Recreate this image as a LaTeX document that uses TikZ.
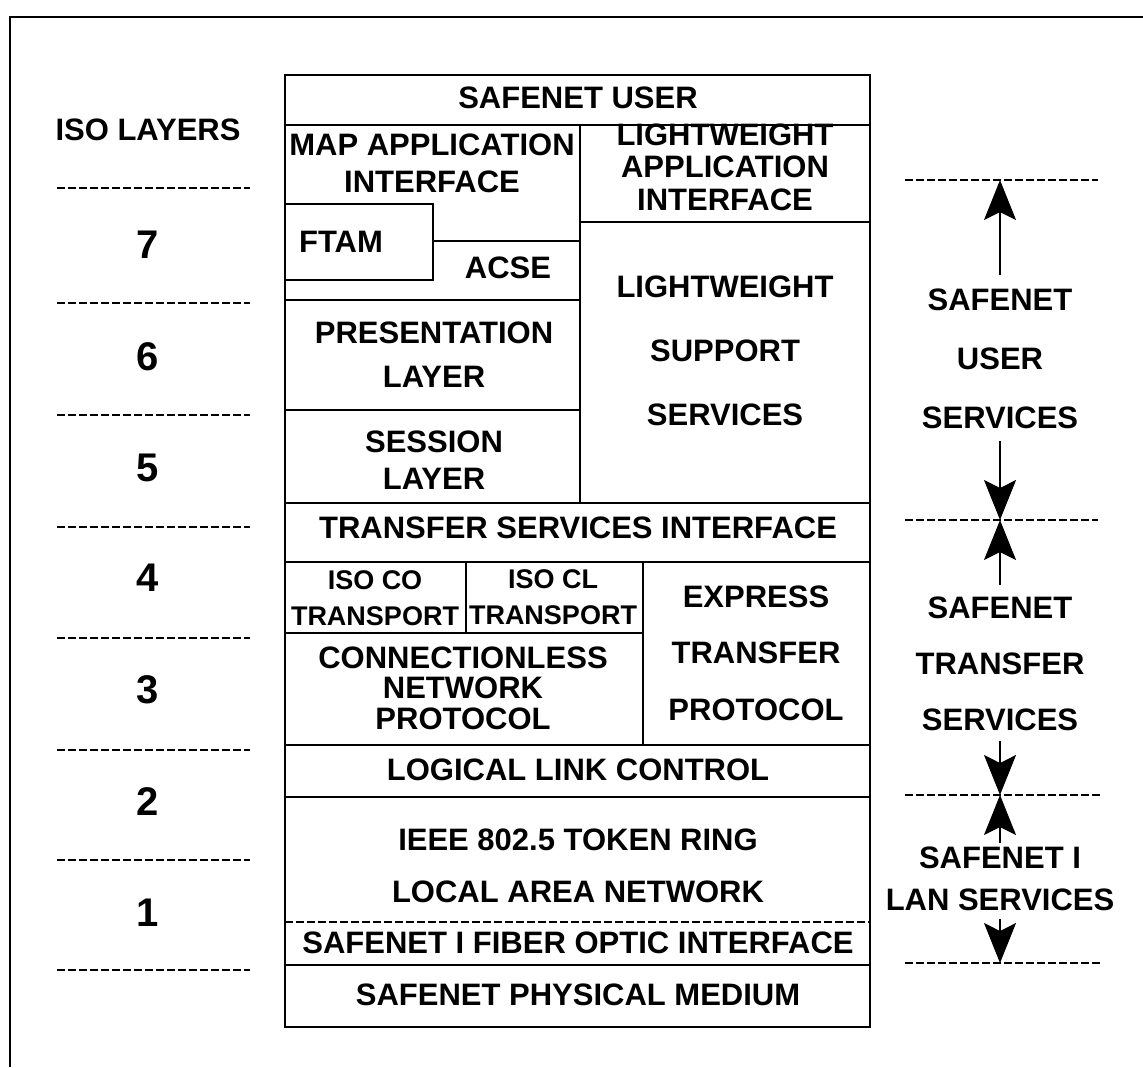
\documentclass[tikz,border=0pt]{standalone}
\usepackage{fontspec}
\setmainfont{Liberation Sans}
\usetikzlibrary{arrows.meta, positioning}
\newcommand\lsk[1]{\fontsize{15.5}{#1}\bfseries\selectfont}

\begin{document}
\begin{tikzpicture}[
  x=0.5pt, y=-0.5pt,
  txt/.style={align=center, inner sep=0pt, font=\lsk{18.5}},
  tptxt/.style={align=center, inner sep=0pt, font=\fontsize{13.5}{18}\bfseries\selectfont},
  digit/.style={inner sep=0pt, font=\fontsize{20}{24}\bfseries\selectfont},
  boxline/.style={line width=1pt},
  outerline/.style={line width=1.4pt},
  layerline/.style={line width=0.6pt, dash pattern=on 4pt off 1.5pt},
  arrow/.style={-{Stealth[length=20pt, width=16pt, inset=4pt]}, line width=0.6pt}
]
  \useasboundingbox (0,0) rectangle (1143,1067);

  % outer frame
  \draw[outerline] (10,1067) -- (10,17) -- (1143,17);

  % iso layers on the left
  \node[txt] (iso) at (148,130) {ISO LAYERS};
  \foreach \y in {188,303,415,527,638,750,860,970}
    \draw[layerline] (57,\y) -- (250,\y);
  \foreach \n/\y in {7/245,6/357,5/468,4/578,3/690,2/802,1/913}
    \node[digit] (l\n) at (148,\y) {\n};

  % the stack
  \draw[boxline] (285,75) rectangle (870,1027);
  \foreach \y in {125,503,562,745,797,965}
    \draw[boxline] (285,\y) -- (870,\y);
  \draw[layerline] (285,922) -- (870,922);
  \draw[boxline] (580,125) -- (580,503);
  \draw[boxline] (580,222) -- (870,222);
  \draw[boxline] (285,300) -- (580,300) (285,410) -- (580,410);
  \draw[boxline] (285,204) rectangle (433,280);
  \draw[boxline] (433,241) -- (580,241);
  \draw[boxline] (466,562) -- (466,633) (285,633) -- (643,633) (643,562) -- (643,745);

  \node[txt] (user) at (578,98) {SAFENET USER};
  \node[txt] (mapapi) at (432,163) {MAP APPLICATION\\INTERFACE};
  \node[txt, font=\lsk{16.3}] (lwapi) at (725,167) {LIGHTWEIGHT\\APPLICATION\\INTERFACE};
  \node[txt] (ftam) at (341,242) {FTAM};
  \node[txt] (acse) at (508,268) {ACSE};
  \node[txt, font=\lsk{32}] (lwss) at (725,351) {LIGHTWEIGHT\\SUPPORT\\SERVICES};
  \node[txt, font=\lsk{22}] (pres) at (434,355) {PRESENTATION\\LAYER};
  \node[txt] (sess) at (434,460) {SESSION\\LAYER};
  \node[txt] (tsi) at (578,528) {TRANSFER SERVICES INTERFACE};
  \node[tptxt] (isoco) at (375,598) {ISO CO\\TRANSPORT};
  \node[tptxt] (isocl) at (553,597) {ISO CL\\TRANSPORT};
  \node[txt, font=\lsk{28.2}] (xtp) at (756,653) {EXPRESS\\TRANSFER\\PROTOCOL};
  \node[txt, font=\lsk{15.3}] (clnp) at (463,688) {CONNECTIONLESS\\NETWORK\\PROTOCOL};
  \node[txt] (llc) at (578,770) {LOGICAL LINK CONTROL};
  \node[txt, font=\lsk{26}] (lan) at (578,866) {IEEE 802.5 TOKEN RING\\LOCAL AREA NETWORK};
  \node[txt] (fiber) at (578,943) {SAFENET I FIBER OPTIC INTERFACE};
  \node[txt] (medium) at (578,995) {SAFENET PHYSICAL MEDIUM};

  % service groups on the right
  \draw[layerline] (905,180) -- (1098,180);
  \draw[layerline] (905,520) -- (1098,520);
  \draw[layerline] (905,795) -- (1100,795);
  \draw[layerline] (905,963) -- (1100,963);
  \coordinate (d1) at (1000,180);
  \coordinate (d2) at (1000,520);
  \coordinate (d3) at (1000,795);
  \coordinate (d4) at (1000,963);

  \node[txt, font=\lsk{29.5}] (usvc) at (1000,359) {SAFENET\\USER\\SERVICES};
  \node[txt, font=\lsk{28}] (tsvc) at (1000,664) {SAFENET\\TRANSFER\\SERVICES};
  \node[txt, font=\lsk{21}] (lsvc) at (1000,879) {SAFENET I\\LAN SERVICES};

  \draw[arrow, shorten <=7pt] (usvc.north) -- (d1);
  \draw[arrow, shorten <=6pt] (usvc.south) -- (d2);
  \draw[arrow, shorten <=6pt] (tsvc.north) -- (d2);
  \draw[arrow, shorten <=5pt] (tsvc.south) -- (d3);
  \draw[arrow, shorten <=2pt] (lsvc.north) -- (d3);
  \draw[arrow, shorten <=4pt] (lsvc.south) -- (d4);
\end{tikzpicture}
\end{document}
